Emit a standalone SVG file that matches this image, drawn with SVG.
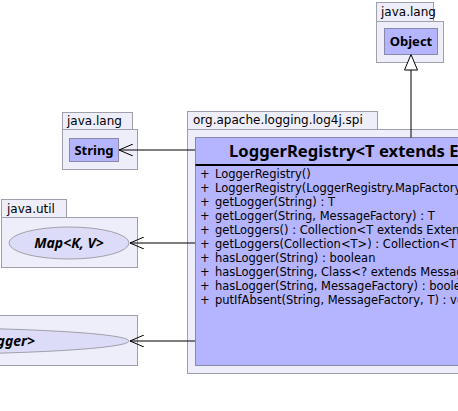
<svg xmlns="http://www.w3.org/2000/svg" width="458" height="411" viewBox="0 0 458 411">
<style>
.pkg{fill:#EEEEFB;stroke:#A0A0AA;stroke-width:1}
.cls{fill:#B4B4FF;stroke:#8888AA;stroke-width:1}
.ell{fill:#DCDCF8;stroke:#A0A0AA;stroke-width:1}
.t{font-family:"DejaVu Sans",Verdana,sans-serif;fill:#000}
.b{font-family:"Noto Sans","DejaVu Sans",sans-serif;font-weight:bold;fill:#000}
.pn{font-size:12px}
.cn{font-size:13px}
.mem{font-size:11.5px}
.title{font-size:16.6px}
.ital{font-size:14px;font-style:italic}
.ln{stroke:#000;stroke-width:1;fill:none}
</style>
<defs>
<marker id="open" viewBox="0 0 14 12" refX="14" refY="6" markerWidth="14" markerHeight="12" orient="auto" markerUnits="userSpaceOnUse">
<path d="M0,0 L14,6 L0,12" fill="none" stroke="#000" stroke-width="1"/>
</marker>
<marker id="tri" viewBox="0 0 16 14" refX="16" refY="7" markerWidth="16" markerHeight="14" orient="auto" markerUnits="userSpaceOnUse">
<path d="M16,7 L0.5,0.5 L0.5,13.5 Z" fill="#fff" stroke="#000" stroke-width="1"/>
</marker>
</defs>

<g id="pkg-java-lang-object">
<rect class="pkg" x="376.5" y="2.5" width="57" height="19"/>
<rect class="pkg" x="376.5" y="21.5" width="67" height="41"/>
<text class="t pn" x="381" y="16">java.lang</text>
</g>
<g id="Object">
<rect class="cls" x="384.5" y="28.5" width="53" height="26"/>
<text class="b cn" x="411" y="46" text-anchor="middle">Object</text>
</g>

<g id="pkg-java-lang-string">
<rect class="pkg" x="62.5" y="112.5" width="70" height="17"/>
<rect class="pkg" x="62.5" y="129.5" width="75" height="40"/>
<text class="t pn" x="67" y="125">java.lang</text>
</g>
<g id="String">
<rect class="cls" x="69.5" y="138.5" width="49" height="23"/>
<text class="b cn" x="94" y="155" text-anchor="middle">String</text>
</g>

<g id="pkg-java-util">
<rect class="pkg" x="1.5" y="199.5" width="65" height="18"/>
<rect class="pkg" x="1.5" y="217.5" width="136" height="50"/>
<text class="t pn" x="7" y="213">java.util</text>
</g>
<g id="Map">
<ellipse class="ell" cx="69" cy="243" rx="60" ry="16"/>
<text class="b ital" x="69" y="248" text-anchor="middle">Map&lt;K, V&gt;</text>
</g>

<g id="pkg-spi-mapfactory">
<rect class="pkg" x="-300.5" y="315.5" width="438" height="50"/>
</g>
<g id="MapFactory">
<ellipse class="ell" cx="-100" cy="341" rx="229" ry="13.5"/>
<text class="b ital" x="35" y="346" text-anchor="end">LoggerRegistry.MapFactory&lt;T extends ExtendedLogger&gt;</text>
</g>

<g id="pkg-org-apache-logging-log4j-spi">
<rect class="pkg" x="187.5" y="111.5" width="190" height="18"/>
<rect class="pkg" x="187.5" y="129.5" width="300" height="244"/>
<text class="t pn" x="193" y="124">org.apache.logging.log4j.spi</text>
</g>
<g id="LoggerRegistry">
<rect class="cls" x="195.5" y="137.5" width="300" height="228"/>
<line x1="195.5" y1="165" x2="495" y2="165" stroke="#000" stroke-width="2"/>
<text class="b title" x="229" y="157">LoggerRegistry&lt;T extends ExtendedLogger&gt;</text>
<text class="t mem" x="200" y="178">+</text><text class="t mem" x="215" y="178">LoggerRegistry()</text>
<text class="t mem" x="200" y="192">+</text><text class="t mem" x="215" y="192">LoggerRegistry(LoggerRegistry.MapFactory&lt;T&gt;)</text>
<text class="t mem" x="200" y="206">+</text><text class="t mem" x="215" y="206">getLogger(String) : T</text>
<text class="t mem" x="200" y="220">+</text><text class="t mem" x="215" y="220">getLogger(String, MessageFactory) : T</text>
<text class="t mem" x="200" y="234">+</text><text class="t mem" x="215" y="234">getLoggers() : Collection&lt;T extends ExtendedLogger&gt;</text>
<text class="t mem" x="200" y="248">+</text><text class="t mem" x="215" y="248">getLoggers(Collection&lt;T&gt;) : Collection&lt;T extends ExtendedLogger&gt;</text>
<text class="t mem" x="200" y="262">+</text><text class="t mem" x="215" y="262">hasLogger(String) : boolean</text>
<text class="t mem" x="200" y="276">+</text><text class="t mem" x="215" y="276">hasLogger(String, Class&lt;? extends MessageFactory&gt;) : boolean</text>
<text class="t mem" x="200" y="290">+</text><text class="t mem" x="215" y="290">hasLogger(String, MessageFactory) : boolean</text>
<text class="t mem" x="200" y="304">+</text><text class="t mem" x="215" y="304">putIfAbsent(String, MessageFactory, T) : void</text>
</g>

<g id="connectors">
<line class="ln" x1="411" y1="137.5" x2="411" y2="54.5" marker-end="url(#tri)"/>
<line class="ln" x1="195" y1="150" x2="119" y2="150" marker-end="url(#open)"/>
<line class="ln" x1="195" y1="243" x2="130" y2="243" marker-end="url(#open)"/>
<line class="ln" x1="195" y1="341" x2="130" y2="341" marker-end="url(#open)"/>
</g>
</svg>
